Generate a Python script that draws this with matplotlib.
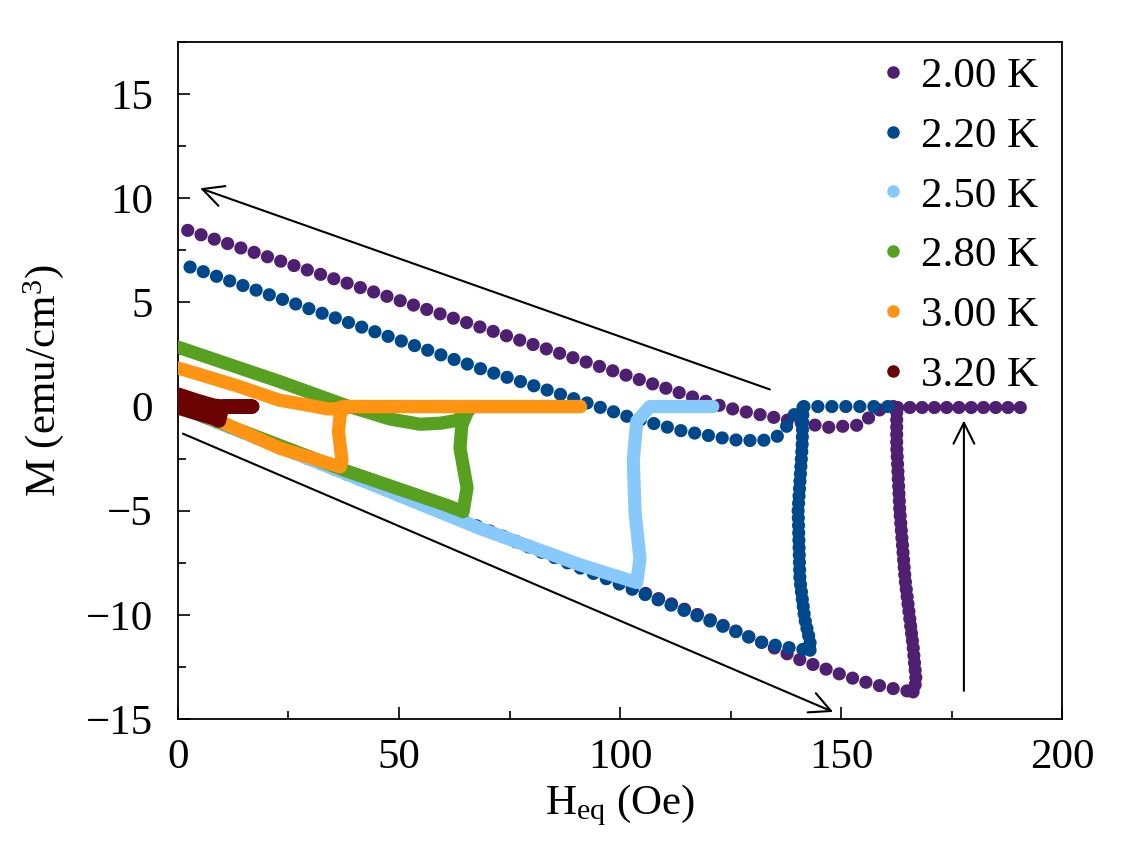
import matplotlib
matplotlib.use("Agg")
import matplotlib.pyplot as plt
from matplotlib.ticker import MultipleLocator
from matplotlib.lines import Line2D

plt.rcParams['font.family'] = ['Liberation Serif', 'DejaVu Serif']
plt.rcParams['mathtext.fontset'] = 'custom'
plt.rcParams['mathtext.rm'] = 'Liberation Serif'
plt.rcParams['mathtext.it'] = 'Liberation Serif:italic'

# ---------------- data (H in Oe, M in emu/cm^3) ----------------
labels = ["2.00 K", "2.20 K", "2.50 K", "2.80 K", "3.00 K", "3.20 K"]
colors = ["#4f1f72", "#00488c", "#88c9fb", "#58a01f", "#ff9312", "#6b0303"]

# 2.00 K
h200_lower = [0, 30, 60, 90, 120, 134, 141.2, 150.5, 156.6, 162, 166.3]
m200_lower = [0, -2.5, -5.1, -7.6, -10.2, -11.5, -12.2, -12.9, -13.3, -13.55, -13.7]
h200_jump = [166.3, 167.0, 166.3, 164.5, 163.3, 162.6, 162.6]
m200_jump = [-13.7, -13.2, -11.5, -8.3, -5.0, -1.9, 0]
h200_flat = [162.6, 190.5]
m200_flat = [0, 0]
h200_upper = [161.8, 158, 156.6, 153.6, 147, 139, 132, 127, 121, 100, 70, 40, 1.6]
m200_upper = [0, -0.2, -0.5, -0.9, -1.0, -0.7, -0.4, -0.2, 0.14, 1.6, 3.7, 5.8, 8.5]

# 2.20 K
h220_lower = [0, 40, 80, 110, 125, 131.7, 136, 139, 143]
m220_lower = [0, -3.4, -6.8, -9.4, -10.7, -11.3, -11.5, -11.6, -11.7]
h220_jump = [143, 143, 141.8, 140.7, 140.3, 141.2, 141.4]
m220_jump = [-11.7, -11.3, -10.2, -8.3, -5.0, -1.9, 0]
h220_upper = [160.6, 141.4, 140, 139, 136, 132, 125.6, 113.6, 102, 93, 79, 70, 0]
m220_upper = [0, 0, -0.1, -0.6, -1.4, -1.65, -1.6, -1.15, -0.5, 0.14, 1.1, 1.7, 6.9]

# 2.50 K
h250 = [0, 20, 40, 68.3, 91, 103.8, 104.5, 103.4, 103.0, 103.8, 106.8, 121]
m250 = [0, -1.7, -3.4, -5.85, -7.6, -8.45, -7.3, -5.05, -2.6, -0.7, 0, 0]

# 2.80 K
h280 = [0, 38.2, 60.9, 64.5, 65.4, 63.8, 64.2, 65.4, 66, 65.4, 63, 59.3, 54.8, 48, 43.4, 38, 23, 0]
m280 = [0, -3.1, -4.75, -5.05, -3.9, -2.0, -0.9, -0.3, -0.1, -0.25, -0.67, -0.8, -0.85, -0.6, -0.3, 0.05, 1.2, 2.85]

# 3.00 K
h300 = [0, 9.5, 23, 36.7, 37.1, 36.3, 36.7, 37.5, 39, 91, 37.3, 36, 34, 29.9, 23, 13.3, 0]
m300 = [0, -0.72, -2.0, -2.9, -2.6, -1.2, -0.4, -0.1, 0, 0, 0, -0.1, -0.12, 0.05, 0.3, 1.0, 1.85]

# 3.20 K
h320 = [0, 7.9, 9.3, 9.6, 10.0, 10.5, 16.8, 10.2, 8, 4, 0]
m320 = [-0.05, -0.55, -0.68, -0.4, -0.1, 0, 0, 0, 0.05, 0.3, 0.58]

# ---------------- figure ----------------
fig = plt.figure(figsize=(11.23, 8.42), dpi=100)
ax = fig.add_axes([0.1585, 0.1461, 0.7872, 0.804])

DOT = 9.5
def dotted(h, m, color, gap, z):
    ax.plot(h, m, color=color, lw=DOT, linestyle=(0, (0.01, gap)),
            dash_capstyle='round', zorder=z)

def solid(h, m, color, lw, z):
    ax.plot(h, m, color=color, lw=lw, solid_capstyle='round',
            solid_joinstyle='round', zorder=z)

dotted(h200_lower, m200_lower, colors[0], 1.05, 2)
dotted(h200_jump, m200_jump, colors[0], 0.55, 2)
dotted(h200_flat, m200_flat, colors[0], 0.92, 2)
dotted(h200_upper, m200_upper, colors[0], 1.05, 2)

dotted(h220_lower, m220_lower, colors[1], 1.05, 3)
dotted(h220_jump, m220_jump, colors[1], 0.55, 3)
dotted(h220_upper, m220_upper, colors[1], 1.05, 3)

solid(h250, m250, colors[2], 9.5, 4)
solid(h280, m280, colors[3], 9.5, 5)
solid(h300, m300, colors[4], 9.5, 6)
solid(h320, m320, colors[5], 10.2, 7)

# arrows
arrow_kw = dict(arrowstyle='->,head_length=0.6,head_width=0.3', lw=1.5,
                color='black', mutation_scale=25, shrinkA=0, shrinkB=0)
ax.annotate('', xy=(5.0, 10.48), xytext=(133.9, 0.82), arrowprops=arrow_kw, zorder=8)
ax.annotate('', xy=(148.2, -14.66), xytext=(1.1, -1.3), arrowprops=arrow_kw, zorder=8)
ax.annotate('', xy=(177.8, -0.67), xytext=(177.8, -13.65), arrowprops=arrow_kw, zorder=8)

ax.set_xlim(0, 200)
ax.set_ylim(-15, 17.5)
ax.xaxis.set_major_locator(MultipleLocator(50))
ax.xaxis.set_minor_locator(MultipleLocator(25))
ax.yaxis.set_major_locator(MultipleLocator(5))
ax.yaxis.set_minor_locator(MultipleLocator(2.5))
ax.tick_params(which='both', direction='in', top=False, right=False, width=1.2,
               labelsize=31)
ax.tick_params(which='major', length=8.6)
ax.tick_params(which='minor', length=5.5)
ax.tick_params(axis='x', which='major', pad=14)
ax.tick_params(axis='y', which='major', pad=18)
for s in ax.spines.values():
    s.set_linewidth(1.3)

ax.set_xlabel('H$_{\\mathrm{eq}}$ (Oe)', fontsize=31, labelpad=4)
ax.set_ylabel('M (emu/cm$^{3}$)', fontsize=31, labelpad=14)

handles = [Line2D([], [], marker='o', ls='none', color=c, markersize=8) for c in colors]
ax.legend(handles, labels, loc='upper right', bbox_to_anchor=(0.9785, 0.9845),
          frameon=False, fontsize=31,
          handlelength=0.52, handletextpad=0.4, labelspacing=0.48,
          borderpad=0.1, borderaxespad=0.0)

fig.savefig('out.png', dpi=100)
